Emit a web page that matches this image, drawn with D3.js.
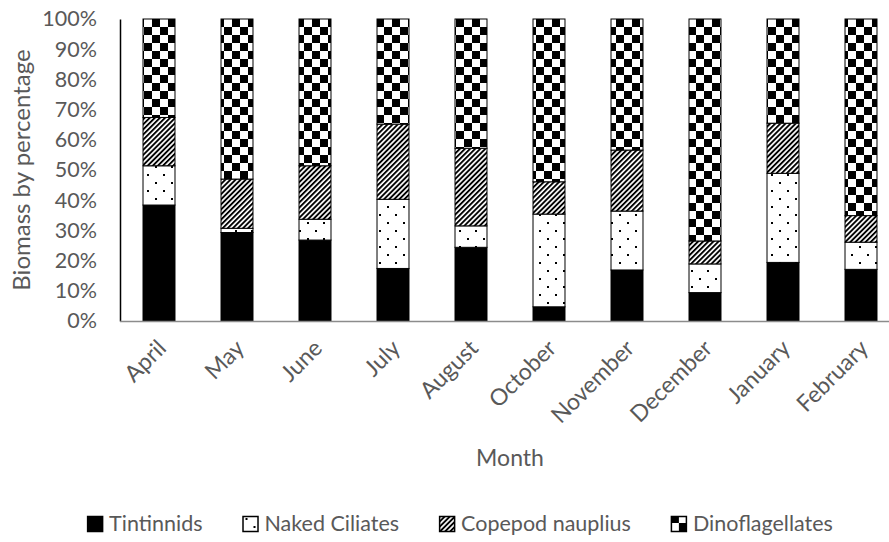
<!DOCTYPE html>
<html>
<head>
<meta charset="utf-8">
<script src="https://cdn.jsdelivr.net/npm/d3@7"></script>
<style>
  body { margin: 0; background: #fff; }
  text { font-family: Lato, "Open Sans", sans-serif; fill: #595959; }
</style>
</head>
<body>
<div id="chart"></div>
<script>
// months shown on the x axis
var months = ["April", "May", "June", "July", "August", "October",
    "November", "December", "January", "February"];

// percentage of biomass per group
var tintinnids = [38.4, 29.3, 26.8, 17.4, 24.4, 4.7, 16.9, 9.4, 19.4, 17.1];
var nakedCiliates = [13.0, 1.4, 6.9, 22.9, 7.1, 30.7, 19.5, 9.5, 29.5, 9.0];
var copepodNauplius = [16.0, 16.3, 17.7, 24.9, 25.7, 10.7, 20.2, 7.6, 16.6, 8.8];
var dinoflagellates = [32.6, 53.0, 48.6, 34.8, 42.8, 53.9, 43.4, 73.5, 34.5, 65.1];

var groups = ["Tintinnids", "Naked Ciliates", "Copepod nauplius", "Dinoflagellates"];
var yTicks = [0, 10, 20, 30, 40, 50, 60, 70, 80, 90, 100];

var margin = { top: 19, right: 0, bottom: 221, left: 120 },
    width = 889,
    height = 542,
    plotW = 780,
    plotH = height - margin.top - margin.bottom;

var svg = d3
    .select("#chart")
    .append("svg")
    .attr("width", width)
    .attr("height", height);

// fill patterns similar to the Excel ones
var defs = svg.append("defs");

var dots = defs.append("pattern")
    .attr("id", "dots")
    .attr("patternUnits", "userSpaceOnUse")
    .attr("width", 16)
    .attr("height", 16);
dots.append("rect").attr("width", 16).attr("height", 16).attr("fill", "#fff");
dots.append("rect").attr("x", 3).attr("y", 3).attr("width", 2).attr("height", 2).attr("fill", "#000");
dots.append("rect").attr("x", 11).attr("y", 11).attr("width", 2).attr("height", 2).attr("fill", "#000");

var stripes = defs.append("pattern")
    .attr("id", "stripes")
    .attr("patternUnits", "userSpaceOnUse")
    .attr("width", 3.6)
    .attr("height", 10)
    .attr("patternTransform", "rotate(45)");
stripes.append("rect").attr("width", 3.6).attr("height", 10).attr("fill", "#fff");
stripes.append("rect").attr("width", 1.9).attr("height", 10).attr("fill", "#000");

var checks = defs.append("pattern")
    .attr("id", "checks")
    .attr("patternUnits", "userSpaceOnUse")
    .attr("width", 16)
    .attr("height", 16);
checks.append("rect").attr("width", 16).attr("height", 16).attr("fill", "#fff");
checks.append("rect").attr("width", 8).attr("height", 8).attr("fill", "#000");
checks.append("rect").attr("x", 8).attr("y", 8).attr("width", 8).attr("height", 8).attr("fill", "#000");

var fills = ["#000", "url(#dots)", "url(#stripes)", "url(#checks)"];

var g = svg.append("g")
    .attr("transform", "translate(" + margin.left + "," + margin.top + ")");

var x = d3.scaleBand()
    .domain(months)
    .range([0, plotW])
    .paddingInner(0.59)
    .paddingOuter(0.295);

var y = d3.scaleLinear().domain([0, 100]).range([plotH, 0]);

var table = months.map(function (m, i) {
    return {
        month: m,
        "Tintinnids": tintinnids[i],
        "Naked Ciliates": nakedCiliates[i],
        "Copepod nauplius": copepodNauplius[i],
        "Dinoflagellates": dinoflagellates[i]
    };
});

var stacked = d3.stack().keys(groups).offset(d3.stackOffsetExpand)(table);

// y axis
var yAxis = g.append("g")
    .call(d3.axisLeft(y).tickValues(yTicks).tickSize(0).tickPadding(23)
        .tickFormat(function (d) { return d + "%"; }));
yAxis.select(".domain").attr("stroke", "#000").attr("stroke-width", 1.5);
yAxis.selectAll("text").style("font-size", "21.5px").attr("fill", "#595959");

var layer = g.selectAll(".layer")
    .data(stacked)
    .enter()
    .append("g")
    .attr("class", "layer")
    .attr("fill", function (d, i) { return fills[i]; });

layer.selectAll("rect")
    .data(function (d) { return d; })
    .enter()
    .append("rect")
    .attr("x", function (d) { return x(d.data.month); })
    .attr("width", x.bandwidth())
    .attr("y", function (d) { return y(d[1] * 100); })
    .attr("height", function (d) { return y(d[0] * 100) - y(d[1] * 100); })
    .attr("stroke", "#000")
    .attr("stroke-width", 1);

// x axis
var xAxis = g.append("g")
    .attr("transform", "translate(0," + plotH + ")")
    .call(d3.axisBottom(x).tickSize(0).tickPadding(0));
xAxis.select(".domain").attr("stroke", "#8c8c8c").attr("stroke-width", 1.5)
    .attr("d", "M0,0.5H" + (plotW));
xAxis.selectAll("text")
    .style("font-size", "23px")
    .attr("fill", "#595959")
    .attr("text-anchor", "end")
    .attr("y", 0)
    .attr("dy", "0.35em")
    .attr("transform", "translate(3,23) rotate(-45)");

// axis titles
svg.append("text")
    .attr("text-anchor", "middle")
    .attr("transform", "translate(30,170) rotate(-90)")
    .style("font-size", "24px")
    .text("Biomass by percentage");

svg.append("text")
    .attr("text-anchor", "middle")
    .attr("x", 510)
    .attr("y", 466)
    .style("font-size", "23px")
    .text("Month");

// legend
var legend = svg.append("g");
var lx = 0;
groups.forEach(function (name, i) {
    var item = legend.append("g").attr("transform", "translate(" + lx + ",0)");
    item.append("rect")
        .attr("x", 0.5).attr("y", -14.5)
        .attr("width", 15).attr("height", 15)
        .attr("fill", fills[i])
        .attr("stroke", "#000")
        .attr("stroke-width", 1.5);
    var t = item.append("text")
        .attr("x", 22)
        .attr("y", 0)
        .style("font-size", "21.5px")
        .text(name);
    lx += 22 + t.node().getComputedTextLength() + 40;
});
var legendW = lx - 40;
legend.attr("transform", "translate(" + (460 - legendW / 2) + ",531)");
</script>
</body>
</html>
